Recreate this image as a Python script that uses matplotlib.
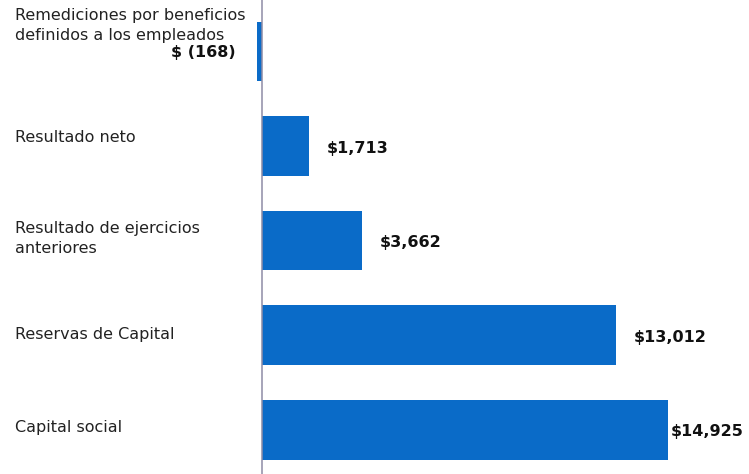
import matplotlib.pyplot as plt
from matplotlib import transforms

# capital contable, millones de pesos
conceptos = [
    "Remediciones por beneficios\ndefinidos a los empleados",
    "Resultado neto",
    "Resultado de ejercicios\nanteriores",
    "Reservas de Capital",
    "Capital social",
]
montos = [-168, 1713, 3662, 13012, 14925]
etiquetas = ["$ (168)", "$1,713", "$3,662", "$13,012", "$14,925"]

azul = "#0a6bc8"

plt.rcParams['font.family'] = ['DejaVu Sans']

fig = plt.figure(figsize=(7.49, 4.74), dpi=100)
ax = fig.add_axes([240 / 749, 0, 480 / 749, 1])

pos = list(range(len(montos)))
ax.barh(pos, montos, height=0.63, color=azul, zorder=2)
ax.axvline(0, color="#8e8ca6", lw=1.1, zorder=3)

# escala: 14,925 -> 406 px desde el eje
ppu = 406 / 14925
ax.set_xlim(-22 / ppu, 458 / ppu)
ax.set_ylim(4.466, -0.544)
ax.axis("off")

# nombres de rubros, alineados a la izquierda del lienzo
desp_y = [-26, -9, -2, -1, -2]
for i, (txt, dy) in enumerate(zip(conceptos, desp_y)):
    tr = transforms.blended_transform_factory(fig.transFigure, ax.transData)
    tr = tr + transforms.ScaledTranslation(0, -dy / 100, fig.dpi_scale_trans)
    ax.text(15 / 749, i, txt, transform=tr, ha="left", va="center",
            fontsize=11.5, color="#222222", linespacing=1.45)

# montos
for i, (v, txt) in enumerate(zip(montos, etiquetas)):
    if v < 0:
        tr = ax.transData + transforms.ScaledTranslation(-22 / 100, -1 / 100, fig.dpi_scale_trans)
        ax.text(v, i, txt, transform=tr, ha="right", va="center",
                fontsize=11.5, fontweight="bold", color="#111111")
    else:
        dx = 18 if i < len(montos) - 1 else 3
        tr = ax.transData + transforms.ScaledTranslation(dx / 100, -2 / 100, fig.dpi_scale_trans)
        ax.text(v, i, txt, transform=tr, ha="left", va="center",
                fontsize=11.5, fontweight="bold", color="#111111")

fig.savefig("out.png", dpi=100)
